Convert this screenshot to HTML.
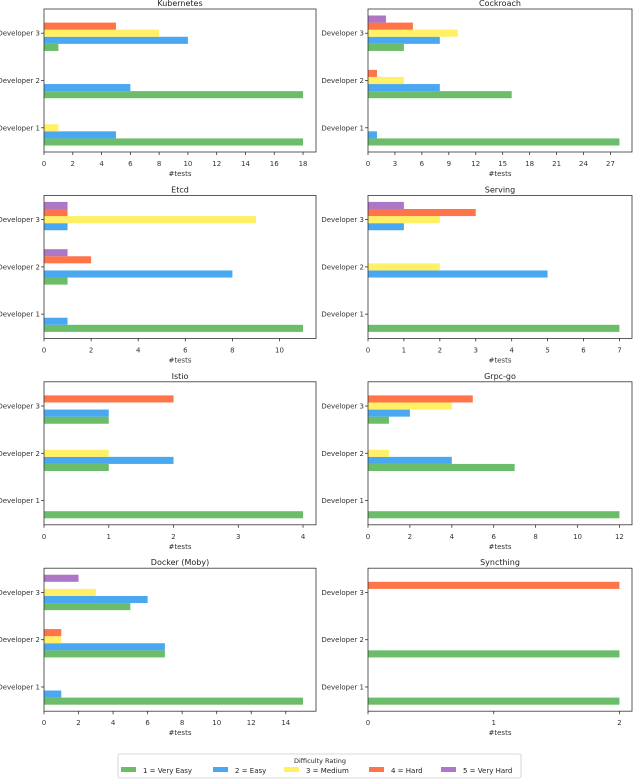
<!DOCTYPE html>
<html><head><meta charset="utf-8"><style>
html,body{margin:0;padding:0;background:#fff;}
svg{display:block;font-family:"DejaVu Sans","Liberation Sans",sans-serif;}
</style></head><body>
<svg id="chart" width="640" height="779" viewBox="0 0 640 779" xmlns="http://www.w3.org/2000/svg"></svg>
<script>
const titles = ["Kubernetes","Cockroach","Etcd","Serving","Istio","Grpc-go","Docker (Moby)","Syncthing"];
const developers = ["Developer 1","Developer 2","Developer 3"];
const ratingLabels = ["1 = Very Easy","2 = Easy","3 = Medium","4 = Hard","5 = Very Hard"];
// values[project][developer][rating]
const kubernetesVals = [[18,5,1,0,0],[18,6,0,0,0],[1,10,8,5,0]];
const cockroachVals = [[28,1,0,0,0],[16,8,4,1,0],[4,8,10,5,2]];
const etcdVals = [[11,1,0,0,0],[1,8,0,2,1],[0,1,9,1,1]];
const servingVals = [[7,0,0,0,0],[0,5,2,0,0],[0,1,2,3,1]];
const istioVals = [[4,0,0,0,0],[1,2,1,0,0],[1,1,0,2,0]];
const grpcVals = [[12,0,0,0,0],[7,4,1,0,0],[1,2,4,5,0]];
const dockerVals = [[15,1,0,0,0],[7,7,1,1,0],[5,6,3,0,2]];
const syncthingVals = [[2,0,0,0,0],[2,0,0,0,0],[0,0,0,2,0]];
const tickSteps = [2,3,2,1,1,2,2,1];

const allVals=[kubernetesVals,cockroachVals,etcdVals,servingVals,istioVals,grpcVals,dockerVals,syncthingVals];
const colors=["#6cbd6a","#4aa8f0","#fff066","#ff7448","#ad76c7"];
const NS="http://www.w3.org/2000/svg";
const svg=document.getElementById('chart');
function mk(tag,attrs,parent){const e=document.createElementNS(NS,tag);for(const k in attrs)e.setAttribute(k,attrs[k]);(parent||svg).appendChild(e);return e;}
const offs=[-0.3,-0.15,0,0.15,0.3], bh=0.15;
allVals.forEach((vals,p)=>{
  const col=p%2,row=Math.floor(p/2);
  const L=col?368:44, R=col?632:316, T=9+row*186.4, B=T+143;
  const g=mk('g',{});
  
  
  let mx=0; vals.forEach(d=>d.forEach(v=>mx=Math.max(mx,v)));
  const xmax=mx*1.05;
  const ylo=-0.5125, yhi=2.5125;
  const xs=v=>L+v/xmax*(R-L);
  const ys=v=>B-(v-ylo)/(yhi-ylo)*(B-T);
  const t=mk('text',{x:(L+R)/2,y:T-3,'text-anchor':'middle','font-size':8,fill:'#222'},g);
  t.textContent=titles[p];
  
  
  vals.forEach((d,di)=>{
    d.forEach((v,ri)=>{
      if(v<=0)return;
      const yc=di+offs[ri];
      const r=mk('rect',{x:xs(0),y:ys(yc+bh/2),width:xs(v)-xs(0),height:ys(yc-bh/2)-ys(yc+bh/2),fill:colors[ri]},g);
      
      
    });
    const y=ys(di);
    mk('line',{x1:L-3,x2:L,y1:y,y2:y,stroke:'#333','stroke-width':0.8},g);
    const lt=mk('text',{x:L-4,y:y+2.5,'text-anchor':'end','font-size':7,fill:'#333'},g);
    lt.textContent=developers[di];
    
    
  });
  const st=tickSteps[p];
  for(let v=0;v<=xmax+1e-9;v+=st){
    const x=xs(v);
    mk('line',{x1:x,x2:x,y1:B,y2:B+3,stroke:'#333','stroke-width':0.8},g);
    const tt=mk('text',{x:x,y:B+14,'text-anchor':'middle','font-size':7,fill:'#333'},g);
    tt.textContent=v;
    
    
  }
  const xl=mk('text',{x:(L+R)/2,y:B+24,'text-anchor':'middle','font-size':7,fill:'#333'},g);
  xl.textContent='#tests';
  
  
  const fr=mk('rect',{x:L,y:T,width:R-L,height:B-T,fill:'none',stroke:'#333','stroke-width':0.8},g);
  
  
});
// legend
const lg=mk('g',{});


mk('rect',{x:118,y:754,width:403,height:24,fill:'#fff',stroke:'#ccc','stroke-width':0.8,rx:2},lg);
const lt=mk('text',{x:320,y:763,'text-anchor':'middle','font-size':6.5,fill:'#222'},lg);
lt.textContent='Difficulty Rating';


const lx=[121,213,284,369,441];
ratingLabels.forEach((s,i)=>{
  const e=mk('g',{},lg);
  
  
  mk('rect',{x:lx[i],y:767,width:15,height:5,fill:colors[i]},e);
  const tx=mk('text',{x:lx[i]+22,y:773,'font-size':7,fill:'#222'},e);
  tx.textContent=s;
});
</script>
</body></html>
